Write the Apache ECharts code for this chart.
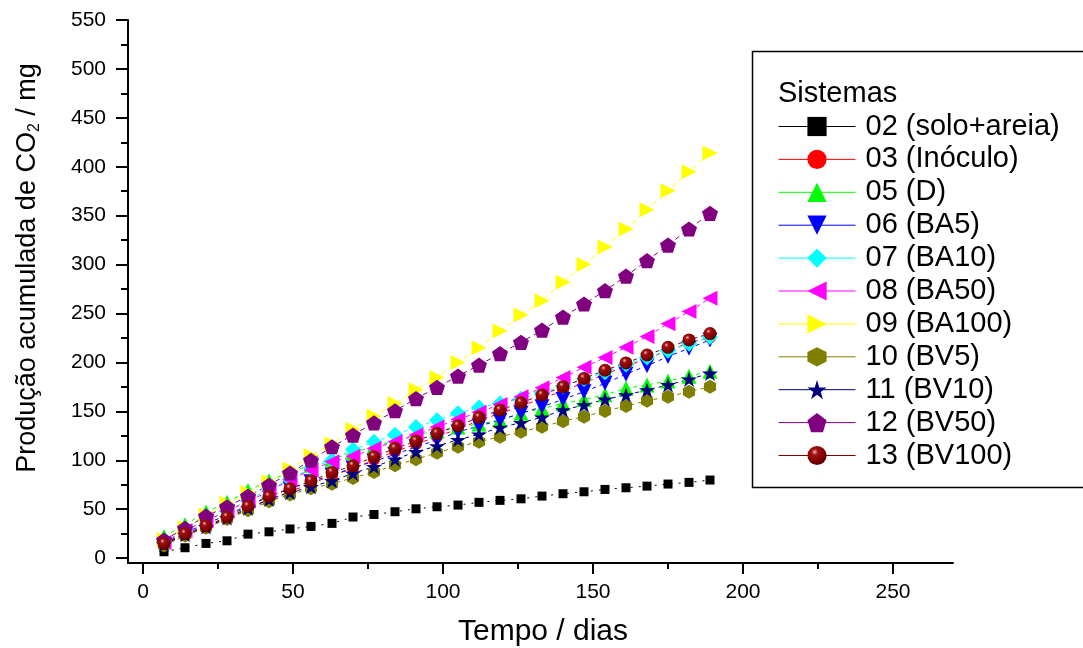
<!DOCTYPE html>
<html>
<head>
<meta charset="utf-8">
<script src="https://cdn.jsdelivr.net/npm/echarts@6/dist/echarts.min.js"></script>
<style>
html,body{margin:0;padding:0;background:#fff;}
#chart{width:1083px;height:648px;}
</style>
</head>
<body>
<div id="chart"></div>
<script>
// ---- data ----
const days = [7,14,21,28,35,42,49,56,63,70,77,84,91,98,105,112,119,126,133,140,147,154,161,168,175,182,189];
const s02 = [6.5,10.6,15,17.7,24.5,26.9,29.8,32.4,35.5,42,44.6,47.4,50.4,52.5,54.2,57,59,60.6,63.4,65.8,67.8,70.2,71.9,73.6,75.7,77.4,79.8];
const s03 = [13,23,31,40,50,60,68,76,84.5,91.5,100.5,109,116.5,124,132,140.5,148,155.5,163,171,179,188,196,204,212,220,225.5];
const s05 = [22,34,47,57,69,79,88,95,101,108,114,120,126,130,134,137,141,148,153,158,162,167,173.5,177,181,186,191];
const s06 = [15,26,35,44,54,63,71,78,85,92,99,106,113.8,120.7,129,135,141,148,154.7,162.2,170,178.6,188,196.6,206,214.4,223];
const s07 = [17,28,38,48,59,70,80,92,100,111,119,126,134,141,148,154,158,163,169,176,183,190,198,205,212,219,226];
const s08 = [16,28,38,48,58,68,80,90,98.5,104,112,119,125.8,134,142,149,157,165,174,184.5,195,205,215.4,226.5,239.5,252,265.5];
const s09 = [19,31,44,56,67,78,91,105,117,131.6,145,158,172,184.7,200,215,232,248.5,263,282,300,318,336.4,356,375.6,395,414];
const s10 = [13,23,31,40,49,58,65,71.3,76,82,88,95,101,107.7,113.8,119,124,129.1,134.3,140,144.5,150.3,155.4,160.8,165,170,175.2];
const s11 = [14,24,32,41,51,60,67,72.9,79,86.6,93.4,101,108.7,114.5,121,126.5,133.5,138.4,143.9,151.3,156.4,162.2,166.7,171.8,177,182.7,188.8];
const s12 = [18.4,30.4,43,52.5,63.4,74.6,87,100,113.8,125.8,138.3,150.6,163,174.5,186,197.3,209,220.5,233,246.4,259.7,273.3,288.3,304,320,336.4,352.4];
const s13 = [15,25,33,42,53,63,71,79,87.6,94.4,103.6,112.2,119.6,127.5,135.3,143.9,151.3,158.8,166.7,175.2,183.7,192,199.5,207.6,215.4,223,229.5];

const seriesNames = ['02 (solo+areia)','03 (Inóculo)','05 (D)','06 (BA5)','07 (BA10)','08 (BA50)','09 (BA100)','10 (BV5)','11 (BV10)','12 (BV50)','13 (BV100)'];
const seriesValues = [s02,s03,s05,s06,s07,s08,s09,s10,s11,s12,s13];

const xMajorTicks = [0,50,100,150,200,250];
const xMinorTicks = [25,75,125,175,225];
const yMajorTicks = [0,50,100,150,200,250,300,350,400,450,500,550];
const yMinorTicks = [25,75,125,175,225,275,325,375,425,475,525];

const legendTitle = 'Sistemas';
const xTitle = 'Tempo / dias';
const yTitle = 'Produção acumulada de CO{sub|2} / mg';

// ---- styles ----
const FONT = "'Liberation Sans', Arial, Helvetica, sans-serif";
const STAR = 'path://M50,0 L61.8,35.4 L99,35.4 L69,57.3 L80.5,93 L50,71 L19.5,93 L31,57.3 L1,35.4 L38.2,35.4 Z';
const PENT = 'path://M50,0 L100,36.3 L80.9,95 L19.1,95 L0,36.3 Z';
const HEX = 'path://M50,0 L93.3,25 L93.3,75 L50,100 L6.7,75 L6.7,25 Z';
const sphere = {type:'radial', x:0.38, y:0.32, r:0.75, colorStops:[{offset:0,color:'#f0b8b8'},{offset:0.22,color:'#a01010'},{offset:0.7,color:'#7a0000'},{offset:1,color:'#4a0000'}]};

const styles = [
  {color:'#000000', symbol:'rect', size:9, rot:0, dash:[2,6]},
  {color:'#FF0000', symbol:'circle', size:12, rot:0, dash:[4,4]},
  {color:'#00FF00', symbol:'triangle', size:15, rot:0, dash:[4,4]},
  {color:'#0000FF', symbol:'triangle', size:15, rot:180, dash:[4,4]},
  {color:'#00FFFF', symbol:'diamond', size:16, rot:0, dash:[4,4]},
  {color:'#FF00FF', symbol:'triangle', size:15, rot:90, dash:[4,4]},
  {color:'#FFFF00', symbol:'triangle', size:15, rot:-90, dash:[5,4]},
  {color:'#808000', symbol:HEX, size:14, rot:0, dash:[4,4]},
  {color:'#000080', symbol:STAR, size:16, rot:0, dash:[4,4]},
  {color:'#800080', symbol:PENT, size:16, rot:0, dash:[5,4]},
  {color:'#800000', symbol:'circle', size:13, rot:0, dash:[4,4], fill:sphere}
];

const series = seriesNames.map((name, i) => {
  const st = styles[i];
  return {
    name: name,
    type: 'line',
    xAxisIndex: 0,
    yAxisIndex: 0,
    data: days.map((d, k) => [d, seriesValues[i][k]]),
    symbol: st.symbol,
    symbolSize: st.size,
    symbolRotate: st.rot,
    symbolKeepAspect: true,
    showAllSymbol: true,
    lineStyle: {color: st.color, width: 1, type: st.dash},
    itemStyle: {color: st.fill || st.color, borderWidth: 0},
    emphasis: {disabled: true},
    animation: false
  };
});

function axis(extra) {
  return Object.assign({
    type: 'value',
    splitLine: {show: false},
    axisLine: {show: true, onZero: false, lineStyle: {color: '#000', width: 2}}
  }, extra);
}

const option = {
  animation: false,
  grid: {left: 128, right: 130, top: 20, bottom: 85},
  xAxis: [
    axis({
      min: -5, max: 270, position: 'bottom',
      axisTick: {show: true, length: 11, customValues: xMajorTicks, lineStyle: {color: '#000', width: 2}},
      axisLabel: {show: true, customValues: xMajorTicks, margin: 19, fontSize: 21, color: '#000', fontFamily: FONT}
    }),
    axis({
      min: -5, max: 270, position: 'bottom',
      axisLine: {show: false, onZero: false},
      axisTick: {show: true, length: 6, customValues: xMinorTicks, lineStyle: {color: '#000', width: 2}},
      axisLabel: {show: false}
    })
  ],
  yAxis: [
    axis({
      min: -5, max: 550, position: 'left',
      axisTick: {show: true, length: 12, customValues: yMajorTicks, lineStyle: {color: '#000', width: 2}},
      axisLabel: {show: true, customValues: yMajorTicks, margin: 22, fontSize: 21, color: '#000', fontFamily: FONT}
    }),
    axis({
      min: -5, max: 550, position: 'left',
      axisLine: {show: false, onZero: false},
      axisTick: {show: true, length: 7, customValues: yMinorTicks, lineStyle: {color: '#000', width: 2}},
      axisLabel: {show: false}
    })
  ],
  legend: {
    orient: 'vertical',
    left: 778, top: 112,
    padding: 0,
    itemWidth: 77, itemHeight: 24, itemGap: 3.9,
    lineStyle: {type: 'solid', width: 1},
    textStyle: {fontSize: 29, lineHeight: 28, color: '#000', fontFamily: FONT, padding: [0,0,0,5]},
    data: seriesNames,
    selectedMode: false
  },
  graphic: [
    {type: 'rect', shape: {x: 752.5, y: 51.5, width: 360, height: 436}, style: {fill: 'none', stroke: '#000', lineWidth: 1.5}, z: 100},
    {type: 'text', x: 778, y: 94, z: 100, style: {text: legendTitle, fontSize: 29, fontFamily: FONT, fill: '#000', align: 'left', verticalAlign: 'middle'}},
    {type: 'text', x: 543, y: 632, z: 100, style: {text: xTitle, fontSize: 30, fontFamily: FONT, fill: '#000', align: 'center', verticalAlign: 'middle'}},
    {type: 'text', x: 28, y: 268, rotation: Math.PI / 2, z: 100, style: {text: yTitle, fontSize: 27, fontFamily: FONT, fill: '#000', align: 'center', verticalAlign: 'middle',
      rich: {sub: {fontSize: 16, fontFamily: FONT, padding: [13,0,0,0], fill: '#000'}}}}
  ],
  series: series
};

const chart = echarts.init(document.getElementById('chart'), null, {renderer: 'canvas'});
chart.setOption(option);
</script>
</body>
</html>
